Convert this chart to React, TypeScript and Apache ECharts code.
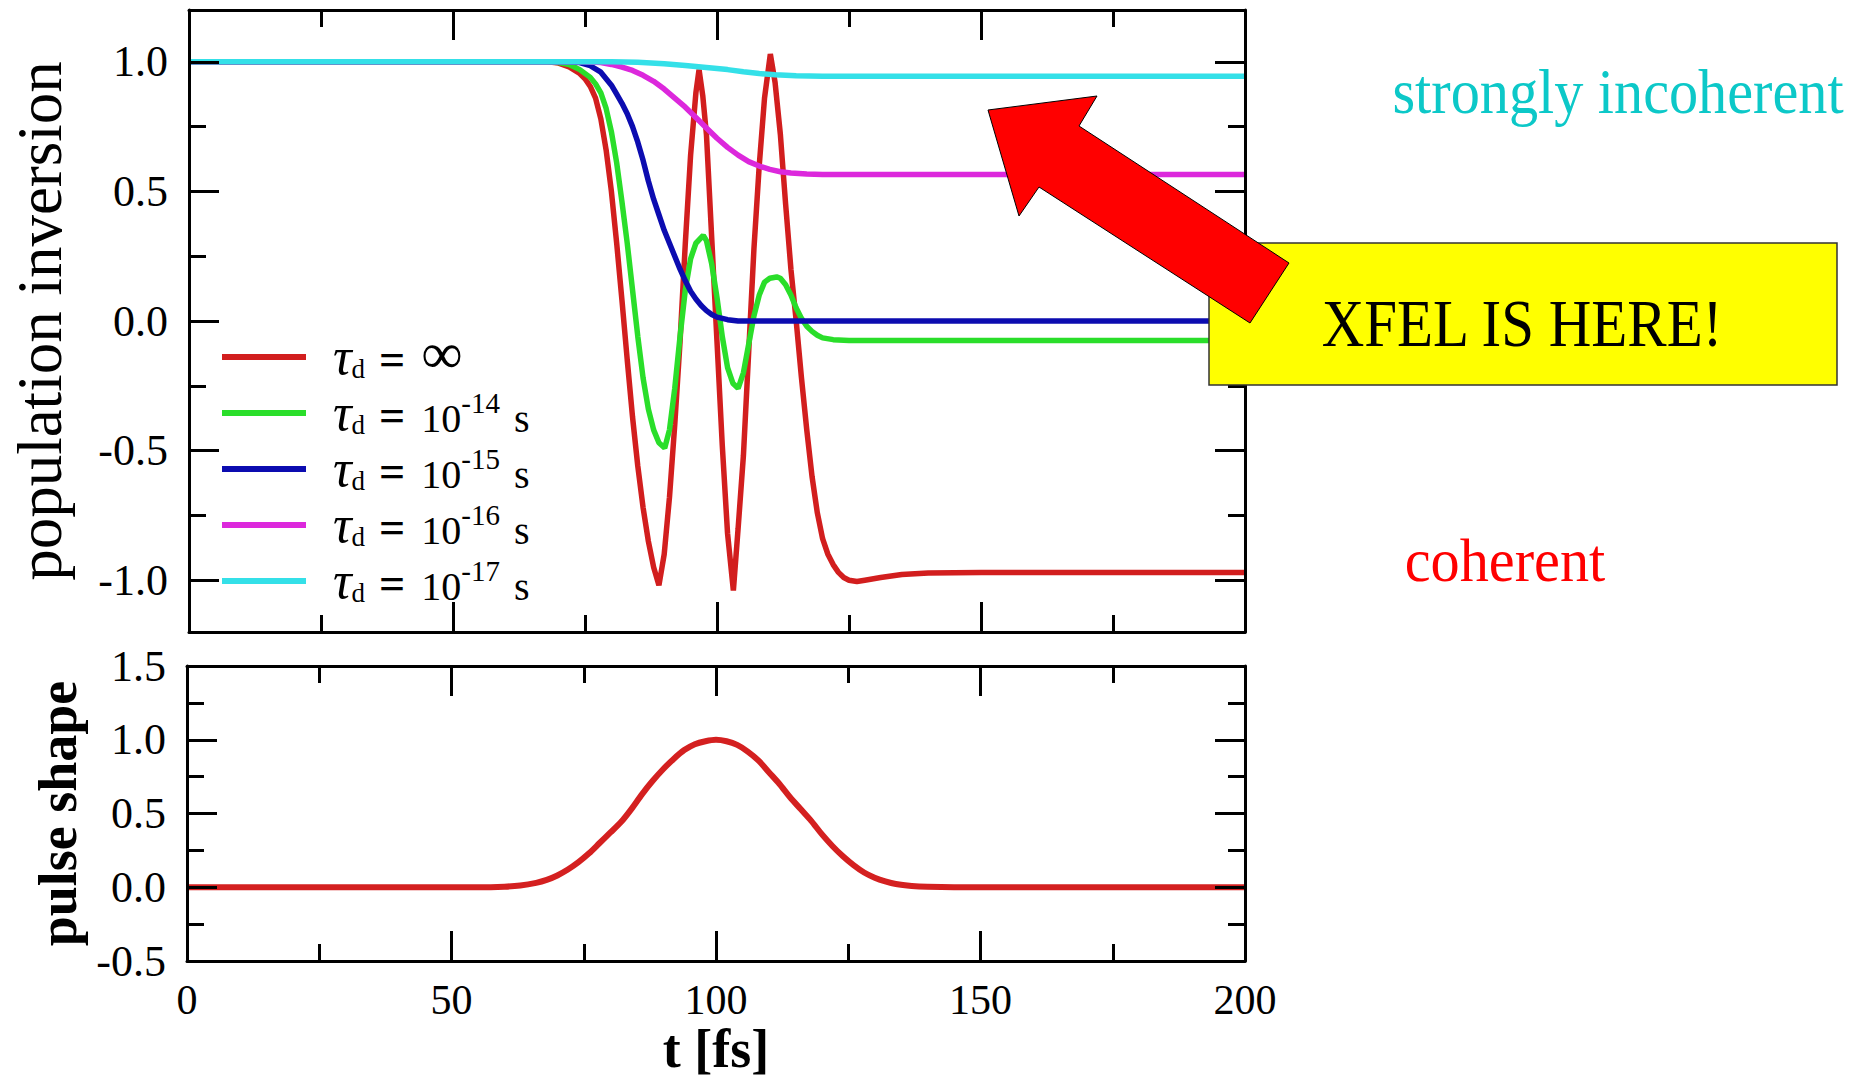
import React, { useEffect, useRef } from 'react';
import * as echarts from 'echarts';

// ---- tick labels / axis values ----
const timeTicks = [0, 50, 100, 150, 200];
const inversionTicks = [-1.0, -0.5, 0.0, 0.5, 1.0];
const inversionMinorTicks = [-0.75, -0.25, 0.25, 0.75];
const pulseTicks = [-0.5, 0.0, 0.5, 1.0, 1.5];

// ---- legend / series ----
const seriesNames = ['τd = ∞', 'τd = 10-14 s', 'τd = 10-15 s', 'τd = 10-16 s', 'τd = 10-17 s'];
const seriesColors = ['#d21e1e', '#2ade2a', '#0c0cb0', '#dc28dc', '#34e0e8'];

// ---- population inversion curves [t (fs), value] ----
const redCurve: [number, number][] = [
  [0, 1], [60, 1], [68, 1], [70, 0.995], [72, 0.98], [74, 0.955], [75, 0.935], [76, 0.905], [77, 0.86],
  [78, 0.78], [79, 0.66], [80, 0.5], [81, 0.3], [82, 0.08], [83, -0.15], [84, -0.37], [85, -0.56],
  [86, -0.72], [87, -0.85], [88, -0.95], [89, -1.02], [90, -0.9], [91, -0.68], [92, -0.4], [93, -0.08],
  [94, 0.3], [95, 0.64], [96, 0.88], [96.6, 0.97], [97.3, 0.87], [98, 0.72], [99, 0.32], [100, -0.08],
  [101, -0.48], [102, -0.82], [103.1, -1.04], [104, -0.8], [105, -0.52], [106, -0.12], [107, 0.28],
  [108, 0.6], [109, 0.86], [110.1, 1.03], [111, 0.92], [112, 0.72], [113, 0.45], [114, 0.2], [115, 0.0],
  [116, -0.22], [117, -0.42], [118, -0.6], [119, -0.74], [120, -0.84], [121, -0.9], [122, -0.94],
  [123, -0.97], [124, -0.99], [125, -1.0], [126.5, -1.005], [128, -1.0], [131, -0.99], [135, -0.978],
  [140, -0.972], [150, -0.97], [200, -0.97],
];
const greenCurve: [number, number][] = [
  [0, 1], [68, 1], [70, 0.997], [72, 0.99], [74, 0.97], [76, 0.94], [77, 0.915], [78, 0.88], [79, 0.82],
  [80, 0.73], [81, 0.61], [82, 0.46], [83, 0.3], [84, 0.12], [85, -0.06], [86, -0.22], [87, -0.34],
  [88, -0.42], [89, -0.47], [90.1, -0.49], [91, -0.42], [92, -0.26], [93, -0.06], [94, 0.12], [95, 0.24],
  [96, 0.3], [97.4, 0.33], [98, 0.31], [99, 0.22], [100, 0.09], [101, -0.06], [102, -0.18], [103, -0.24],
  [104, -0.26], [105, -0.2], [106, -0.09], [107, 0.02], [108, 0.1], [109, 0.15], [110, 0.165],
  [111.3, 0.17], [112, 0.165], [113, 0.14], [114, 0.1], [115, 0.05], [116, 0.01], [117, -0.02],
  [118, -0.04], [119, -0.055], [120, -0.065], [122, -0.072], [125, -0.075], [200, -0.075],
];
const blueCurve: [number, number][] = [
  [0, 1], [70, 1], [72, 0.999], [74, 0.997], [76, 0.985], [78, 0.96], [80, 0.91], [81, 0.875],
  [82, 0.84], [83, 0.8], [84, 0.75], [85, 0.69], [86, 0.62], [87, 0.54], [88, 0.47], [89, 0.41],
  [90, 0.35], [91, 0.3], [92, 0.25], [93, 0.2], [94, 0.155], [95, 0.115], [96, 0.085], [97, 0.06],
  [98, 0.04], [99, 0.025], [100, 0.015], [102, 0.005], [104, 0], [200, 0],
];
const magentaCurve: [number, number][] = [
  [0, 1], [75, 1], [78, 0.997], [80, 0.99], [82, 0.98], [84, 0.967], [86, 0.948], [88, 0.925],
  [90, 0.895], [92, 0.86], [94, 0.825], [96, 0.785], [98, 0.745], [100, 0.705], [102, 0.67],
  [104, 0.64], [106, 0.615], [108, 0.598], [110, 0.585], [112, 0.576], [114, 0.571], [117, 0.567],
  [120, 0.565], [200, 0.565],
];
const cyanCurve: [number, number][] = [
  [0, 1], [80, 1], [85, 0.998], [90, 0.993], [94, 0.986], [98, 0.978], [102, 0.97], [105, 0.962],
  [108, 0.955], [111, 0.95], [115, 0.946], [120, 0.944], [200, 0.944],
];
const inversionCurves = [redCurve, greenCurve, blueCurve, magentaCurve, cyanCurve];

// ---- pulse shape [t (fs), value] ----
const pulseCurve: [number, number][] = [
  [0, 0], [55, 0], [60, 0.004], [63, 0.012], [66, 0.03], [68, 0.05], [70, 0.08], [72, 0.12], [74, 0.17],
  [76, 0.23], [78, 0.3], [80, 0.37], [82, 0.44], [84, 0.53], [86, 0.63], [88, 0.72], [90, 0.8],
  [92, 0.87], [94, 0.93], [96, 0.97], [98, 0.99], [100, 1.0], [102, 0.99], [104, 0.965], [106, 0.92],
  [108, 0.86], [110, 0.78], [112, 0.7], [114, 0.61], [116, 0.53], [118, 0.45], [120, 0.36], [122, 0.28],
  [124, 0.21], [126, 0.15], [128, 0.1], [130, 0.065], [132, 0.04], [134, 0.022], [137, 0.009],
  [140, 0.003], [145, 0], [200, 0],
];

const FONT = 'Liberation Serif';
const AXIS_LINE = { show: true, onZero: false, lineStyle: { color: '#000', width: 3 } };
const MAJOR_LEN = 30;
const MINOR_LEN = 17;

function timeAxis(gridIndex: number, position: 'top' | 'bottom', labels: boolean, name?: string) {
  return {
    type: 'value', gridIndex, position, min: timeTicks[0], max: timeTicks[timeTicks.length - 1],
    interval: timeTicks[1] - timeTicks[0], z: 10,
    axisLine: AXIS_LINE,
    axisTick: { show: true, inside: true, length: MAJOR_LEN, lineStyle: { color: '#000', width: 3 } },
    minorTick: { show: true, splitNumber: 2, length: MINOR_LEN, lineStyle: { color: '#000', width: 3 } },
    axisLabel: { show: labels, fontFamily: FONT, fontSize: 42, color: '#000', margin: 18 },
    splitLine: { show: false },
    name: name || '',
    nameLocation: 'middle', nameGap: 57,
    nameTextStyle: { fontFamily: FONT, fontSize: 54, lineHeight: 48, fontWeight: 'bold', color: '#000' },
  };
}

function inversionAxis(position: 'left' | 'right', minor: boolean, labels: boolean, name?: string) {
  const vals = minor ? inversionMinorTicks : inversionTicks;
  return {
    type: 'value', gridIndex: 0, position, min: -1.2, max: 1.2, z: 10,
    axisLine: minor ? { show: false, onZero: false } : AXIS_LINE,
    axisTick: { show: true, inside: true, length: minor ? MINOR_LEN : MAJOR_LEN, customValues: vals,
      lineStyle: { color: '#000', width: 3 } },
    axisLabel: { show: labels, customValues: inversionTicks, formatter: (v: number) => v.toFixed(1),
      fontFamily: FONT, fontSize: 44, color: '#000', margin: 21 },
    splitLine: { show: false },
    name: name || '',
    nameLocation: 'middle', nameGap: 118,
    nameTextStyle: { fontFamily: FONT, fontSize: 63, color: '#000' },
  };
}

function pulseAxis(position: 'left' | 'right', labels: boolean, name?: string) {
  return {
    type: 'value', gridIndex: 1, position, min: pulseTicks[0], max: pulseTicks[pulseTicks.length - 1],
    interval: pulseTicks[1] - pulseTicks[0], z: 10,
    axisLine: AXIS_LINE,
    axisTick: { show: true, inside: true, length: MAJOR_LEN, lineStyle: { color: '#000', width: 3 } },
    minorTick: { show: true, splitNumber: 2, length: MINOR_LEN, lineStyle: { color: '#000', width: 3 } },
    axisLabel: { show: labels, formatter: (v: number) => v.toFixed(1), fontFamily: FONT, fontSize: 44,
      color: '#000', margin: 21 },
    splitLine: { show: false },
    name: name || '',
    nameLocation: 'middle', nameGap: 96,
    nameTextStyle: { fontFamily: FONT, fontSize: 54, fontWeight: 'bold', color: '#000' },
  };
}

function legendFormatter(name: string) {
  const m = name.match(/10(-\d+)/);
  if (!m) return '{tau|τ}{sub|d}{eq|=}{inf|∞}{sp| }';
  return '{tau|τ}{sub|d}{eq|=}{num|10}{sup|' + m[1] + '}{s|s}{sp| }';
}

const legendRich = {
  tau: { fontFamily: FONT, fontStyle: 'italic', fontSize: 52, lineHeight: 36, verticalAlign: 'bottom',
    padding: [0, 0, 0, 22], color: '#000' },
  sub: { fontFamily: FONT, fontSize: 27, lineHeight: 18, verticalAlign: 'bottom', color: '#000' },
  eq: { fontFamily: FONT, fontSize: 46, fontWeight: 'bold', lineHeight: 36, verticalAlign: 'bottom',
    padding: [0, 16, 0, 14], color: '#000' },
  num: { fontFamily: FONT, fontSize: 40, lineHeight: 36, verticalAlign: 'bottom', color: '#000' },
  inf: { fontFamily: FONT, fontSize: 58, lineHeight: 36, verticalAlign: 'bottom', color: '#000' },
  sup: { fontFamily: FONT, fontSize: 29, lineHeight: 12, verticalAlign: 'top', color: '#000' },
  s: { fontFamily: FONT, fontSize: 40, lineHeight: 36, verticalAlign: 'bottom', padding: [0, 0, 0, 14], color: '#000' },
  sp: { fontSize: 10, lineHeight: 50, verticalAlign: 'middle' },
};

function annotationText(text: string, x: number, y: number, size: number, scaleX: number, color: string) {
  return {
    type: 'text', x, y, scaleX, z: 102,
    style: { text, fontFamily: FONT, fontSize: size, fill: color, align: 'center', textAlign: 'center',
      verticalAlign: 'middle', textVerticalAlign: 'middle' },
  };
}

export default function App() {
  const ref = useRef<HTMLDivElement>(null);
  useEffect(() => {
    if (!ref.current) return;
    const chart = echarts.init(ref.current, null, { renderer: 'svg' });
    const option: any = {
      animation: false,
      backgroundColor: '#ffffff',
      textStyle: { fontFamily: FONT },
      grid: [
        { left: 187, top: 10, width: 1058, height: 622 },
        { left: 187, top: 666, width: 1058, height: 295 },
      ],
      xAxis: [
        timeAxis(0, 'bottom', false),
        timeAxis(0, 'top', false),
        timeAxis(1, 'bottom', true, 't [fs]'),
        timeAxis(1, 'top', false),
      ],
      yAxis: [
        inversionAxis('left', false, true, 'population inversion'),
        inversionAxis('left', true, false),
        inversionAxis('right', false, false),
        inversionAxis('right', true, false),
        pulseAxis('left', true, 'pulse shape'),
        pulseAxis('right', false),
      ],
      legend: {
        data: seriesNames, orient: 'vertical', left: 222, top: 324, padding: 0, itemGap: 4,
        itemWidth: 84, itemHeight: 6, icon: 'rect', selectedMode: false,
        formatter: legendFormatter,
        textStyle: { color: '#000', rich: legendRich },
      },
      series: [
        ...inversionCurves.map((curve, i) => ({
          name: seriesNames[i], type: 'line', xAxisIndex: 0, yAxisIndex: 0, data: curve,
          symbol: 'none', showSymbol: false, z: 2 + i * 0.1,
          lineStyle: { color: seriesColors[i], width: 5.5 }, itemStyle: { color: seriesColors[i] },
        })),
        {
          name: 'pulse shape', type: 'line', xAxisIndex: 2, yAxisIndex: 4, data: pulseCurve,
          symbol: 'none', showSymbol: false, smooth: 0.3,
          lineStyle: { color: '#d42020', width: 6 }, itemStyle: { color: '#d42020' },
        },
      ],
      graphic: [
        { type: 'rect', z: 100, shape: { x: 1209, y: 243, width: 628, height: 142 },
          style: { fill: '#ffff00', stroke: '#333333', lineWidth: 1.5 } },
        { type: 'polygon', z: 101,
          shape: { points: [[988, 110], [1097, 96], [1079, 126], [1289, 263], [1250, 323], [1039, 187], [1019, 216]] },
          style: { fill: '#ff0000', stroke: '#000000', lineWidth: 1 } },
        annotationText('XFEL IS HERE!', 1522, 324, 67, 0.88, '#000000'),
        annotationText('strongly incoherent', 1618, 91, 64, 0.91, '#0cc8c8'),
        annotationText('coherent', 1505, 560, 62, 0.94, '#ff0000'),
      ],
    };
    chart.setOption(option);
    return () => chart.dispose();
  }, []);
  return (
    <div ref={ref}
      style={{ position: 'fixed', left: 0, top: 0, width: '1858px', height: '1079px', background: '#fff' }} />
  );
}
